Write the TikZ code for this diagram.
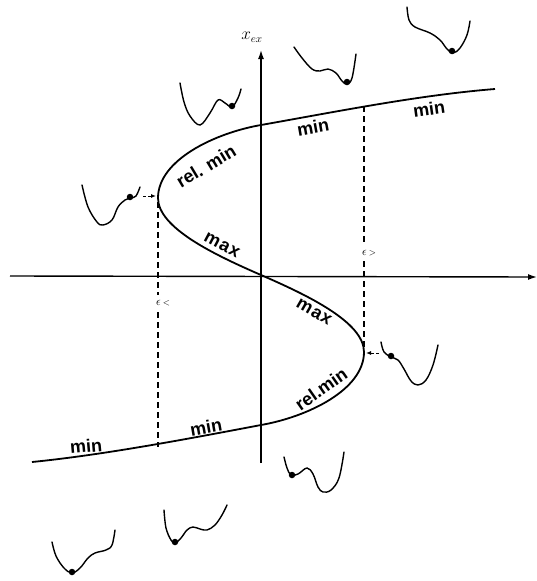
\documentclass[tikz,border=0pt]{standalone}
\usepackage{fontspec}
\setmainfont{Liberation Sans}
\usetikzlibrary{arrows.meta}
\begin{document}
\begin{tikzpicture}[x=1pt,y=-1pt,
  axis/.style={line width=1.4pt,-{Latex[length=9pt,width=6pt]}},
  branch/.style={line width=1.8pt},
  guide/.style={line width=1.1pt,dash pattern=on 6pt off 4pt},
  well/.style={line width=1.4pt,smooth,tension=0.6,line cap=round},
  ball/.style={fill=black,circle,inner sep=0pt,minimum size=6.5pt},
  lab/.style={font=\fontsize{18}{18}\selectfont\bfseries,inner sep=0pt},
  eps/.style={font=\fontsize{13}{13}\selectfont,inner sep=0pt},
  push/.style={line width=1pt,dash pattern=on 3pt off 2pt,-{Latex[length=5pt,width=4pt]}}]
\useasboundingbox (0,0) rectangle (537,581);
% axes
\coordinate (hl) at (10,276);
\coordinate (hr) at (537,277);
\coordinate (vb) at (261,463);
\coordinate (vt) at (261,50);
\draw[axis] (hl) -- (hr);
\draw[axis] (vb) -- (vt);
\node[font=\fontsize{16}{16}\selectfont] (xlab) at (252,37) {$x_{ex}$};
% S-shaped curve
\coordinate (E2) at (32,462);
\coordinate (C2) at (261,425);
\coordinate (F2) at (364,352);
\coordinate (O) at (261,275);
\coordinate (F1) at (158,198);
\coordinate (C1) at (261,125);
\coordinate (E1) at (495,89);
\draw[branch] (E2) .. controls (102,455) and (182,440) .. (C2)
  .. controls (307,417) and (364,390) .. (F2)
  .. controls (364,322) and (307,295) .. (O)
  .. controls (215,255) and (158,228) .. (F1)
  .. controls (158,160) and (215,133) .. (C1)
  .. controls (340,111) and (420,95) .. (E1);
% dashed guides
\coordinate (g1a) at (158,202);
\coordinate (g1b) at (158,295);
\coordinate (g1c) at (158,312);
\coordinate (g1d) at (158,447);
\draw[guide] (g1a) -- (g1b);
\draw[guide] (g1c) -- (g1d);
\coordinate (g2a) at (364,106);
\coordinate (g2b) at (364,245);
\coordinate (g2c) at (364,261);
\coordinate (g2d) at (364,349);
\draw[guide] (g2a) -- (g2b);
\draw[guide] (g2c) -- (g2d);
\node[eps] (epsL) at (163,303) {$\epsilon\,{\scriptstyle <}$};
\node[eps] (epsR) at (369,253) {$\epsilon\,{\scriptstyle >}$};
% labels on the branches
\node[lab,rotate=10] (m1) at (313,127) {min};
\node[lab,rotate=8] (m2) at (429,109) {min};
\node[lab,rotate=31] (rm1) at (206,166) {rel. min};
\node[lab,rotate=-28] (mx1) at (222,245) {m\kern1pt a\kern1pt x};
\node[lab,rotate=-30] (mx2) at (314,312) {m\kern1pt a\kern1pt x};
\node[lab,rotate=35] (rm2) at (321,389) {rel.min};
\node[lab,rotate=10] (m3) at (206,427) {min};
\node[lab,rotate=5] (m4) at (86,446) {min};
% potential wells
\draw[well] plot coordinates {(180,83) (184,102) (190,116) (200,125) (210,113) (218,100) (225,103) (232,107) (238,98) (241,89)};
\node[ball] (b1) at (232,106) {};
\draw[well] plot coordinates {(82,185) (88,207) (97,222) (103,225) (112,220) (118,207) (125,200) (131,198) (136,196) (140,187)};
\node[ball] (b2) at (130,197) {};
\draw[well] plot coordinates {(294,47) (302,58) (312,69) (320,71) (328,69) (336,73) (342,81) (347,84) (352,78) (356,54)};
\node[ball] (b3) at (347,82) {};
\draw[well] plot coordinates {(407,7) (409,20) (415,27) (430,33) (440,40) (447,49) (453,53) (460,48) (467,35) (470,21)};
\node[ball] (b4) at (452,51) {};
\draw[well] plot coordinates {(381,342) (384,352) (391,357) (398,360) (404,369) (411,381) (418,385) (426,380) (433,365) (438,345)};
\node[ball] (b5) at (391,356) {};
\draw[well] plot coordinates {(284,457) (287,468) (291,475) (298,474) (307,468) (313,474) (318,487) (323,492) (331,490) (339,478) (344,452)};
\node[ball] (b6) at (292,475) {};
\draw[well] plot coordinates {(164,510) (166,528) (171,540) (175,543) (181,538) (187,530) (193,527) (200,529) (207,530) (215,525) (222,515) (227,505)};
\node[ball] (b7) at (175,542) {};
\draw[well] plot coordinates {(52,542) (56,556) (64,568) (72,573) (80,568) (88,558) (95,553) (106,550) (112,545) (115,530)};
\node[ball] (b8) at (72,572) {};
% push arrows
\coordinate (p1) at (143,196);
\coordinate (q1) at (156,196);
\draw[push] (p1) -- (q1);
\coordinate (p2) at (379,353);
\coordinate (q2) at (366,353);
\draw[push] (p2) -- (q2);
\end{tikzpicture}
\end{document}
